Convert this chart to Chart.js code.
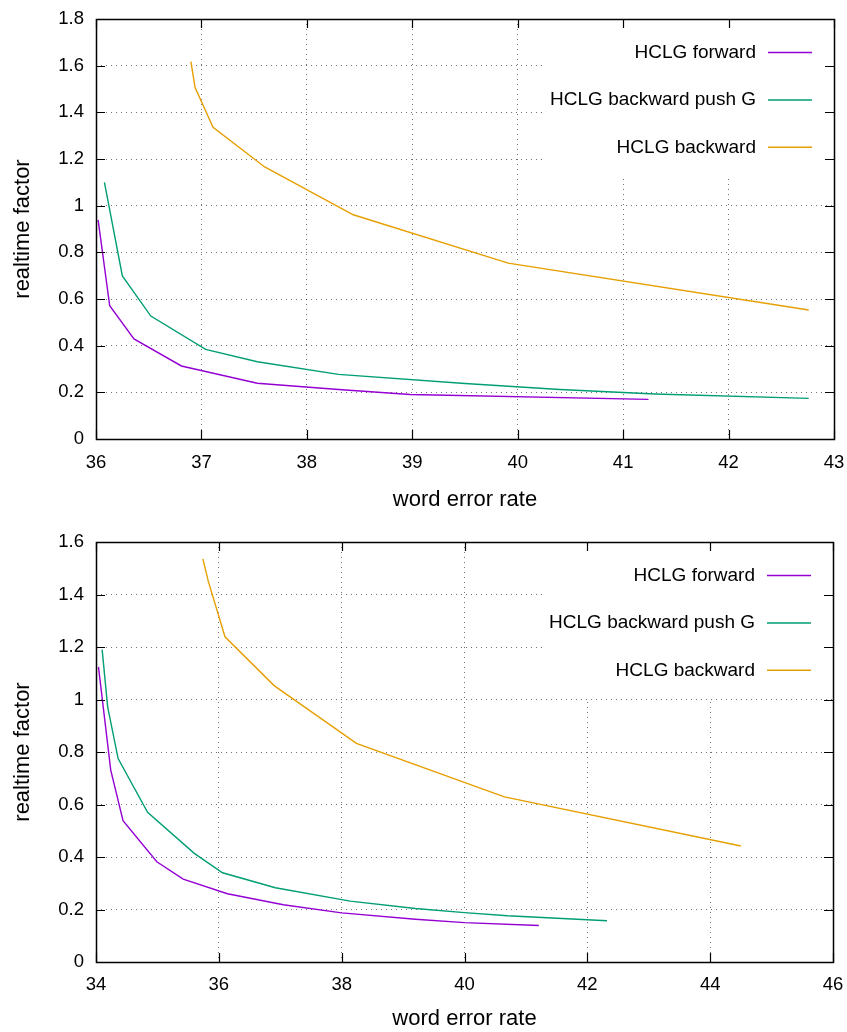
<!DOCTYPE html>
<html>
<head>
<meta charset="utf-8">
<script src="https://cdn.jsdelivr.net/npm/chart.js@4.4.0/dist/chart.umd.min.js"></script>
<style>
	html, body { margin: 0; padding: 0; background: #fff; }
	.panel { position: absolute; left: 0; width: 847px; height: 516px; }
	#top-panel { top: 0; }
	#bottom-panel { top: 516px; }
</style>
</head>
<body>
<div class="panel" id="top-panel"><canvas id="top-canvas" width="847" height="516"></canvas></div>
<div class="panel" id="bottom-panel"><canvas id="bottom-canvas" width="847" height="516"></canvas></div>
<script>
// Data
const seriesNames = ['HCLG forward', 'HCLG backward push G', 'HCLG backward'];
const seriesColors = ['#9400d3', '#009e73', '#e69f00'];

// upper plot
const topForwardWer = [36.02, 36.13, 36.36, 36.81, 37.53, 38.3, 38.98, 41.24];
const topForwardRtf = [0.939, 0.571, 0.429, 0.313, 0.239, 0.212, 0.191, 0.17];
const topPushWer = [36.08, 36.25, 36.52, 37.04, 37.53, 38.3, 39.5, 40.4, 41.3, 42.76];
const topPushRtf = [1.10, 0.699, 0.527, 0.384, 0.331, 0.277, 0.238, 0.212, 0.193, 0.174];
const topBackwardWer = [36.90, 36.94, 37.11, 37.6, 38.44, 39.91, 42.76];
const topBackwardRtf = [1.617, 1.506, 1.336, 1.166, 0.961, 0.754, 0.553];

// lower plot
const bottomForwardWer = [34.04, 34.24, 34.44, 34.99, 35.42, 36.14, 37.05, 38.0, 39.2, 40.0, 41.21];
const bottomForwardRtf = [1.124, 0.731, 0.538, 0.382, 0.316, 0.26, 0.218, 0.187, 0.163, 0.15, 0.139];
const bottomPushWer = [34.1, 34.19, 34.36, 34.84, 35.6, 36.06, 36.92, 38.14, 39.2, 40.0, 40.7, 42.32];
const bottomPushRtf = [1.19, 0.972, 0.775, 0.57, 0.414, 0.34, 0.283, 0.232, 0.204, 0.188, 0.176, 0.157];
const bottomBackwardWer = [35.74, 35.83, 36.10, 36.90, 38.24, 40.65, 44.5];
const bottomBackwardRtf = [1.536, 1.449, 1.239, 1.053, 0.833, 0.629, 0.442];

// axis ranges: min, max, step
const topXRange = [36, 43, 1];
const topYRange = [0, 1.8, 0.2];
const bottomXRange = [34, 46, 2];
const bottomYRange = [0, 1.6, 0.2];

const xTitle = 'word error rate';
const yTitle = 'realtime factor';

Chart.defaults.font.family = '"Liberation Sans", Arial, sans-serif';
Chart.defaults.color = '#000';

// zip two arrays into scatter points
function toPoints(xs, ys) {
	return xs.map((x, i) => ({ x: x, y: ys[i] }));
}

// gnuplot prints 1 rather than 1.0
function tickText(v) {
	return String(Number(v.toFixed(1)));
}

// gnuplot look: white key box, full frame, inward ticks, key entries
const gnuplotFrame = {
	id: 'gnuplotFrame',
	beforeDatasetsDraw(chart, args, opts) {
		const { ctx, chartArea: a } = chart;
		ctx.save();
		ctx.fillStyle = '#fff';
		ctx.fillRect(a.right - opts.keyWidth, a.top + 1, opts.keyWidth - 1, opts.keyHeight);
		ctx.restore();
	},
	afterDatasetsDraw(chart, args, opts) {
		const { ctx, chartArea: a } = chart;
		const xs = chart.scales.x;
		const ys = chart.scales.y;
		ctx.save();
		ctx.strokeStyle = '#000';
		ctx.lineWidth = 1.2;
		ctx.beginPath();
		xs.ticks.forEach(t => {
			const px = Math.round(xs.getPixelForValue(t.value)) + 0.5;
			ctx.moveTo(px, a.bottom); ctx.lineTo(px, a.bottom - 9);
			ctx.moveTo(px, a.top); ctx.lineTo(px, a.top + 9);
		});
		ys.ticks.forEach(t => {
			const py = Math.round(ys.getPixelForValue(t.value)) + 0.5;
			ctx.moveTo(a.left, py); ctx.lineTo(a.left + 9, py);
			ctx.moveTo(a.right, py); ctx.lineTo(a.right - 9, py);
		});
		ctx.stroke();
		ctx.lineWidth = 1.5;
		ctx.strokeRect(Math.round(a.left) + 0.5, Math.round(a.top) + 0.5,
			Math.round(a.right - a.left), Math.round(a.bottom - a.top));

		// key
		ctx.font = '19px "Liberation Sans", Arial, sans-serif';
		ctx.textAlign = 'right';
		ctx.textBaseline = 'middle';
		chart.data.datasets.forEach((ds, i) => {
			const y = a.top + 33.5 + i * 47.4;
			ctx.fillStyle = '#000';
			ctx.fillText(ds.label, a.right - 78, y);
			ctx.strokeStyle = ds.borderColor;
			ctx.lineWidth = 1.5;
			ctx.beginPath();
			ctx.moveTo(a.right - 66, y);
			ctx.lineTo(a.right - 22, y);
			ctx.stroke();
		});
		ctx.restore();
	}
};

function makeChart(canvas, series, xRange, yRange, layout) {
	return new Chart(canvas, {
		type: 'scatter',
		data: {
			datasets: series.map((s, i) => ({
				label: seriesNames[i],
				data: toPoints(s[0], s[1]),
				showLine: true,
				borderColor: seriesColors[i],
				backgroundColor: seriesColors[i],
				borderWidth: 1.4,
				pointRadius: 0,
				tension: 0
			}))
		},
		options: {
			responsive: false,
			animation: false,
			layout: { padding: { top: layout.top, right: layout.right, left: 0, bottom: 0 } },
			plugins: {
				legend: { display: false },
				tooltip: { enabled: false },
				gnuplotFrame: { keyWidth: 288, keyHeight: layout.keyHeight }
			},
			scales: {
				x: {
					type: 'linear',
					min: xRange[0], max: xRange[1],
					border: { display: false, dash: [1, 4] },
					grid: { color: 'rgba(0,0,0,0.55)', lineWidth: 1, drawTicks: false },
					ticks: { stepSize: xRange[2], autoSkip: false, maxRotation: 0,
						padding: layout.xTickPad, font: { size: 18.5 } },
					title: { display: true, text: xTitle, font: { size: 22 },
						padding: { top: 0, bottom: layout.xTitlePad } },
					afterFit(scale) {
						scale.height = layout.xHeight;
						scale.paddingLeft = 0;
						scale.paddingRight = 0;
					}
				},
				y: {
					type: 'linear',
					min: yRange[0], max: yRange[1],
					border: { display: false, dash: [1, 4] },
					grid: { color: 'rgba(0,0,0,0.55)', lineWidth: 1, drawTicks: false },
					ticks: { stepSize: yRange[2], autoSkip: false,
						padding: 12, font: { size: 18.5 },
						callback: v => tickText(v) },
					title: { display: true, text: yTitle, font: { size: 22 },
						padding: { top: 9.8, bottom: 0 } },
					afterFit(scale) {
						scale.width = 96;
						scale.paddingTop = 0;
						scale.paddingBottom = 0;
					}
				}
			}
		},
		plugins: [gnuplotFrame]
	});
}

makeChart(document.getElementById('top-canvas'),
	[[topForwardWer, topForwardRtf], [topPushWer, topPushRtf], [topBackwardWer, topBackwardRtf]],
	topXRange, topYRange,
	{ top: 19, right: 13, xHeight: 77, xTickPad: 13, xTitlePad: 2.8, keyHeight: 156 });

makeChart(document.getElementById('bottom-canvas'),
	[[bottomForwardWer, bottomForwardRtf], [bottomPushWer, bottomPushRtf], [bottomBackwardWer, bottomBackwardRtf]],
	bottomXRange, bottomYRange,
	{ top: 26, right: 14, xHeight: 70, xTickPad: 12, xTitlePad: 0, keyHeight: 155 });
</script>
</body>
</html>
